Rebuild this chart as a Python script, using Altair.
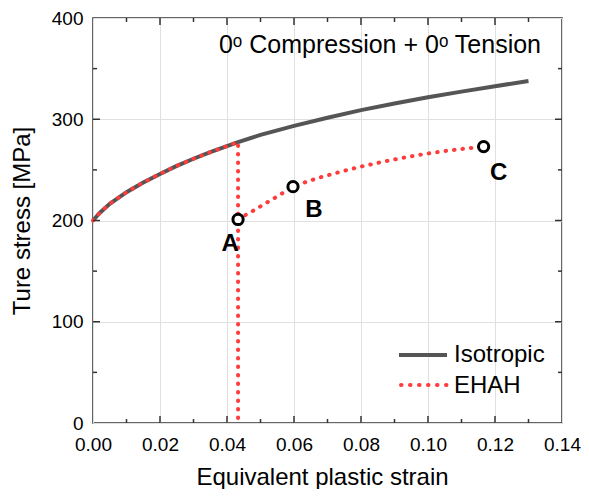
import altair as alt
import pandas as pd

# ---- data ----
iso_x = [0, 0.002, 0.005, 0.01, 0.015, 0.02, 0.025, 0.03, 0.035, 0.04, 0.0433,
         0.05, 0.06, 0.07, 0.08, 0.09, 0.10, 0.11, 0.12, 0.13]
iso_y = [200, 207.5, 216.5, 228, 237.5, 246, 254, 261, 267.5, 273.5, 277.5,
         284.5, 293.5, 301.5, 309, 315.5, 321.8, 327.3, 332.6, 337.8]

# EHAH: preload branch (follows isotropic), unload to zero, reload branch
ehah1_x = [0, 0.002, 0.005, 0.01, 0.015, 0.02, 0.025, 0.03, 0.035, 0.04, 0.0433, 0.0433]
ehah1_y = [200, 207.5, 216.5, 228, 237.5, 246, 254, 261, 267.5, 273.5, 277.5, 0]
ehah2_x = [0.0433, 0.046, 0.048, 0.050, 0.055, 0.0597, 0.0629, 0.068, 0.074, 0.080,
           0.0865, 0.093, 0.099, 0.105, 0.111, 0.1166]
ehah2_y = [201, 206.3, 210, 214, 223.8, 233.4, 237.3, 242.8, 248.3, 253.2,
           258, 262.2, 265.7, 268.6, 271, 273]

pt_labels = ["A", "B", "C"]
pt_x = [0.0433, 0.0597, 0.1166]
pt_y = [201, 233.4, 273]

x_major = [0.02, 0.04, 0.06, 0.08, 0.10, 0.12]
x_minor = [0.01, 0.03, 0.05, 0.07, 0.09, 0.11, 0.13]
y_major = [100, 200, 300]
y_minor = [50, 150, 250, 350]

annotation = "0ᵒ Compression + 0ᵒ Tension"
legend_names = ["Isotropic", "EHAH"]

FONT = "Liberation Sans, Arial, sans-serif"
GRAY = "#555555"
RED = "#ff3b3b"
W, H = 469, 405

xs = alt.Scale(domain=[0, 0.14], nice=False, zero=False)
ys = alt.Scale(domain=[0, 400], nice=False, zero=False)

iso_df = pd.DataFrame({"x": iso_x, "y": iso_y, "i": range(len(iso_x))})
e1 = pd.DataFrame({"x": ehah1_x, "y": ehah1_y, "seg": 1, "i": range(len(ehah1_x))})
e2 = pd.DataFrame({"x": ehah2_x, "y": ehah2_y, "seg": 2, "i": range(len(ehah2_x))})
ehah_df = pd.concat([e1, e2], ignore_index=True)
pts_df = pd.DataFrame({"x": pt_x, "y": pt_y, "lab": pt_labels})

X = alt.X("x:Q", scale=xs, axis=alt.Axis(
    values=[0, 0.02, 0.04, 0.06, 0.08, 0.10, 0.12, 0.14], format=".2f",
    labelFlush=False,
    title="Equivalent plastic strain", titleX=229, titleY=61, titleBaseline="alphabetic"))
Y = alt.Y("y:Q", scale=ys, axis=alt.Axis(
    values=[0, 100, 200, 300, 400], labelFlush=False, title="Ture stress [MPa]",
    titleX=-59, titleY=H / 2))

base = alt.Chart(iso_df)
iso = base.mark_line(color=GRAY, strokeWidth=4).encode(x=X, y=Y, order="i:Q")
ehah = alt.Chart(ehah_df).mark_line(
    color=RED, strokeWidth=4, strokeDash=[0.5, 8], strokeCap="round"
).encode(x="x:Q", y="y:Q", detail="seg:N", order="i:Q")

pts = alt.Chart(pts_df).mark_point(
    shape="circle", filled=True, fill="white", stroke="black", strokeWidth=3,
    size=105, opacity=1
).encode(x="x:Q", y="y:Q")

offsets = {"A": (-8, 25), "B": (21, 23), "C": (15, 26)}
labels = []
for lab in pt_labels:
    dx, dy = offsets[lab]
    labels.append(
        alt.Chart(pts_df).transform_filter(alt.datum.lab == lab).mark_text(
            font=FONT, fontSize=24, fontWeight="bold", color="black",
            align="center", baseline="middle", dx=dx, dy=dy
        ).encode(x="x:Q", y="y:Q", text="lab:N")
    )

ann = alt.Chart(pd.DataFrame({"t": [annotation]})).mark_text(
    font=FONT, fontSize=25, color="black", align="right", baseline="alphabetic"
).encode(x=alt.value(448), y=alt.value(35), text="t:N")

# manual legend
leg_df = pd.DataFrame({"t": legend_names})
leg_iso = alt.Chart(leg_df).transform_filter(alt.datum.t == "Isotropic").mark_rule(
    color=GRAY, strokeWidth=4).encode(x=alt.value(306), x2=alt.value(354), y=alt.value(337))
leg_eh = alt.Chart(leg_df).transform_filter(alt.datum.t == "EHAH").mark_rule(
    color=RED, strokeWidth=4, strokeDash=[0.5, 8.5], strokeCap="round"
).encode(x=alt.value(308), x2=alt.value(354), y=alt.value(367))
leg_t1 = alt.Chart(leg_df).transform_filter(alt.datum.t == "Isotropic").mark_text(
    font=FONT, fontSize=24, align="left", baseline="alphabetic", color="black"
).encode(x=alt.value(361), y=alt.value(343.5), text="t:N")
leg_t2 = alt.Chart(leg_df).transform_filter(alt.datum.t == "EHAH").mark_text(
    font=FONT, fontSize=24, align="left", baseline="alphabetic", color="black"
).encode(x=alt.value(361), y=alt.value(375), text="t:N")

# inward ticks on all four sides
TC = "#333333"
def vticks(vals, size, at, off):
    return alt.Chart(pd.DataFrame({"x": vals})).mark_tick(
        orient="vertical", size=size, thickness=1.5, color=TC, yOffset=off, opacity=1
    ).encode(x="x:Q", y=alt.datum(at))

def hticks(vals, size, at, off):
    return alt.Chart(pd.DataFrame({"y": vals})).mark_tick(
        orient="horizontal", size=size, thickness=1.5, color=TC, xOffset=off, opacity=1
    ).encode(y="y:Q", x=alt.datum(at))

ticks = [
    vticks(x_major, 7, 0, -3.5), vticks(x_minor, 4, 0, -2),
    vticks(x_major, 7, 400, 3.5), vticks(x_minor, 4, 400, 2),
    hticks(y_major, 7, 0, 3.5), hticks(y_minor, 4, 0, 2),
    hticks(y_major, 7, 0.14, -3.5), hticks(y_minor, 4, 0.14, -2),
]

chart = alt.layer(
    iso, ehah, pts, *labels, ann, leg_iso, leg_eh, leg_t1, leg_t2, *ticks
).properties(
    width=W, height=H,
    padding={"left": 85, "top": 10, "right": 19, "bottom": 66},
    autosize="none",
).configure_view(
    stroke="#333333", strokeWidth=1.5
).configure_axis(
    labelFont=FONT, labelFontSize=19, labelColor="black",
    titleFont=FONT, titleFontSize=24, titleFontWeight="normal", titleColor="black",
    grid=True, gridColor="#e0e0e0", gridWidth=1,
    ticks=False, domain=False, labelPadding=10,
).configure_axisX(labelPadding=12)

chart.save("out.html", embed_options={"renderer": "svg", "actions": False})
